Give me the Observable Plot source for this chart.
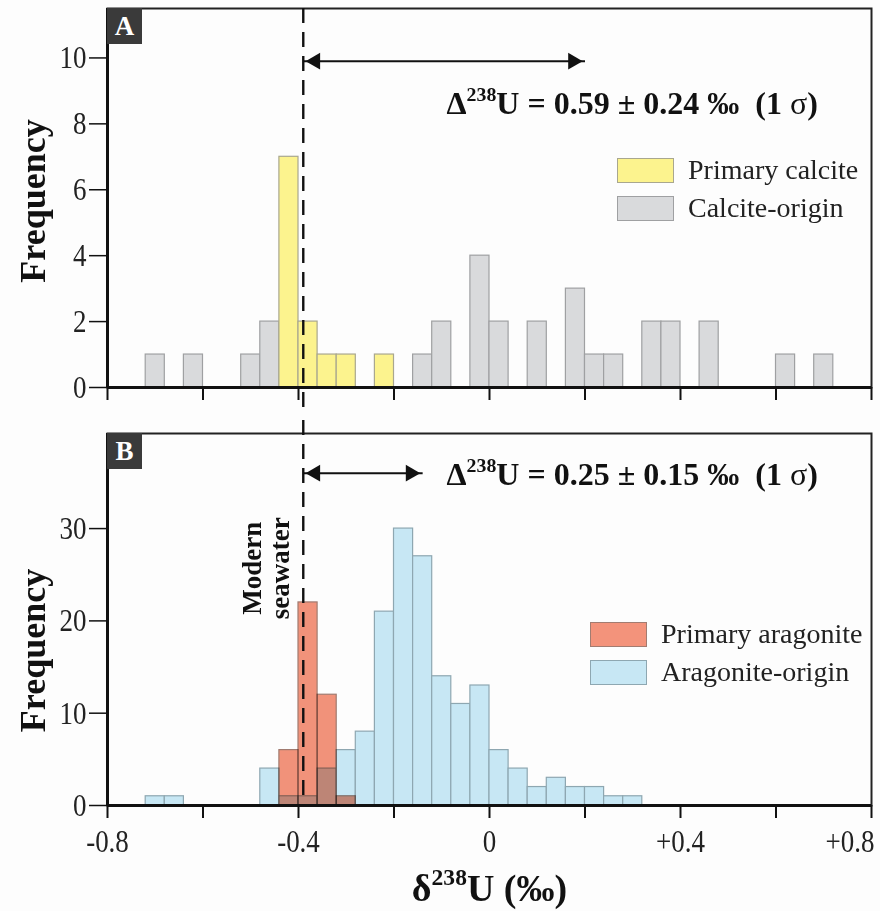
<!DOCTYPE html>
<html><head><meta charset="utf-8">
<script src="https://cdn.jsdelivr.net/npm/d3@7"></script>
<script src="https://cdn.jsdelivr.net/npm/@observablehq/plot@0.6"></script>
<style>
body{margin:0;background:#fff;}
#fig{position:relative;width:880px;height:911px;font-family:"Liberation Serif","Times New Roman",serif;color:#222;background:#fdfdfd;}
#fig svg{display:block;}
.tag{position:absolute;width:35px;height:36px;background:#3a3a3a;color:#fff;font-weight:bold;font-size:27px;line-height:37px;text-align:center;}
.leg{position:absolute;display:flex;align-items:center;font-size:28px;line-height:30px;color:#222;}
.sw{width:57px;height:25px;border:1.5px solid #9c9c9c;box-sizing:border-box;margin-right:14px;}
</style></head><body><div id="fig"></div><script>
// ---- data ----
const binWidth = 0.04;
const calcitePrimaryStarts = [-0.44, -0.40, -0.36, -0.32, -0.24];
const calcitePrimaryCounts = [7, 2, 1, 1, 1];
const calciteOriginStarts = [-0.72, -0.64, -0.52, -0.48, -0.16, -0.12, -0.04, 0.00, 0.08, 0.16, 0.20, 0.24, 0.32, 0.36, 0.44, 0.60, 0.68];
const calciteOriginCounts = [1, 1, 1, 2, 1, 2, 4, 2, 2, 3, 1, 1, 2, 2, 2, 1, 1];
const aragonitePrimaryStarts = [-0.44, -0.40, -0.36, -0.32];
const aragonitePrimaryCounts = [6, 22, 12, 1];
const aragoniteOriginStarts = [-0.72, -0.68, -0.48, -0.44, -0.40, -0.36, -0.32, -0.28, -0.24, -0.20, -0.16, -0.12, -0.08, -0.04, 0.00, 0.04, 0.08, 0.12, 0.16, 0.20, 0.24, 0.28];
const aragoniteOriginCounts = [1, 1, 4, 1, 1, 4, 6, 8, 21, 30, 27, 14, 11, 13, 6, 4, 2, 3, 2, 2, 1, 1];

const modernSeawater = -0.39;
const offsetA = 0.59, sigmaA = 0.24;
const offsetB = 0.25, sigmaB = 0.15;

const xTickValues = [-0.8, -0.6, -0.4, -0.2, 0, 0.2, 0.4, 0.6, 0.8];
const xTickLabels = ["-0.8", "", "-0.4", "", "0", "", "+0.4", "", "+0.8"];
const yTicksA = [0, 2, 4, 6, 8, 10];
const yTicksB = [0, 10, 20, 30];
const seriesA = ["Primary calcite", "Calcite-origin"];
const seriesB = ["Primary aragonite", "Aragonite-origin"];
const colors = {
  "Primary calcite": "#fcf38e", "Calcite-origin": "#d9dadc",
  "Primary aragonite": "#f3937b", "Aragonite-origin": "#c7e7f4"
};
const strokes = {
  "Primary calcite": "#a9a78f", "Calcite-origin": "#9fa0a2",
  "Primary aragonite": "#a27c71", "Aragonite-origin": "#8ea7b1"
};
const arrowLevelA = 9.9, labelLevelA = 8.6;
const arrowLevelB = 36.0, labelLevelB = 35.8;
const labelStartX = -0.09;

const bins = (starts, counts) => starts.map((s, i) => ({x1: s, x2: s + binWidth, n: counts[i]}));

const serif = "Liberation Serif, Times New Roman, serif";
const xDomain = [-0.8, 0.8];

function histMarks(data, name, extra = {}) {
  return Plot.rect(data, {x1: "x1", x2: "x2", y1: 0, y2: "n", fill: colors[name], stroke: strokes[name], strokeWidth: 1.2, ...extra});
}
function arrowMarks(level, x2) {
  const d = [{a: modernSeawater, b: x2, y: level}];
  return [
    Plot.link(d, {x1: "a", x2: "b", y1: "y", y2: "y", stroke: "#111", strokeWidth: 2}),
    Plot.dot(d, {x: "a", y: "y", symbol: "triangle2", r: 8, rotate: -90, fill: "#111", dx: 12}),
    Plot.dot(d, {x: "b", y: "y", symbol: "triangle2", r: 8, rotate: 90, fill: "#111", dx: -12})
  ];
}
const deltaText = (o, s) => `Δ238U = ${o.toFixed(2)} ± ${s.toFixed(2)} ‰\u00a0\u00a0(1 σ)`;

const plotA = Plot.plot({
  width: 880, height: 420,
  marginTop: 8, marginBottom: 33, marginLeft: 107, marginRight: 9,
  style: {fontFamily: serif, background: "transparent", color: "#222", overflow: "visible"},
  x: {domain: xDomain},
  y: {domain: [0, 11.5]},
  marks: [
    histMarks(bins(calciteOriginStarts, calciteOriginCounts), "Calcite-origin"),
    histMarks(bins(calcitePrimaryStarts, calcitePrimaryCounts), "Primary calcite"),
    Plot.frame({stroke: "#222", strokeWidth: 2}),
    Plot.ruleY([0], {stroke: "#111", strokeWidth: 3}),
    Plot.ruleX([xDomain[0]], {stroke: "#111", strokeWidth: 3}),
    Plot.axisX({ticks: xTickValues, tickSize: 13, tickFormat: () => "", strokeWidth: 2, stroke: "#111", label: null}),
    Plot.axisY({ticks: yTicksA, tickSize: 18, tickPadding: 3, fontSize: 27, strokeWidth: 1.5, stroke: "#111", label: null}),
    Plot.ruleX([modernSeawater], {stroke: "#111", strokeWidth: 2.4, strokeDasharray: "15,9", insetBottom: -20}),
    ...arrowMarks(arrowLevelA, modernSeawater + offsetA),
    Plot.text([deltaText(offsetA, sigmaA)], {x: labelStartX, y: labelLevelA, text: d => d, textAnchor: "start", fontSize: 32, fontWeight: "bold", fill: "#111"}),
    Plot.text(["Frequency"], {frameAnchor: "left", textAnchor: "middle", text: d => d, rotate: -90, dx: -74, dy: 3, fontSize: 36, fontWeight: "bold", fill: "#111"})
  ]
});

const plotB = Plot.plot({
  width: 880, height: 491,
  marginTop: 13, marginBottom: 106, marginLeft: 107, marginRight: 9,
  style: {fontFamily: serif, background: "transparent", color: "#222", overflow: "visible"},
  x: {domain: xDomain},
  y: {domain: [0, 40.3]},
  marks: [
    histMarks(bins(aragoniteOriginStarts, aragoniteOriginCounts), "Aragonite-origin"),
    histMarks(bins(aragonitePrimaryStarts, aragonitePrimaryCounts), "Primary aragonite", {mixBlendMode: "multiply"}),
    Plot.frame({stroke: "#222", strokeWidth: 2}),
    Plot.ruleY([0], {stroke: "#111", strokeWidth: 3}),
    Plot.ruleX([xDomain[0]], {stroke: "#111", strokeWidth: 3}),
    Plot.axisX({ticks: xTickValues, tickSize: 13, tickPadding: 10, fontSize: 27, tickFormat: d => xTickLabels[xTickValues.indexOf(d)], strokeWidth: 2, stroke: "#111", label: null}),
    Plot.axisY({ticks: yTicksB, tickSize: 18, tickPadding: 3, fontSize: 27, strokeWidth: 1.5, stroke: "#111", label: null}),
    Plot.ruleX([modernSeawater], {stroke: "#111", strokeWidth: 2.4, strokeDasharray: "15,9", insetTop: -13}),
    ...arrowMarks(arrowLevelB, modernSeawater + offsetB),
    Plot.text([deltaText(offsetB, sigmaB)], {x: labelStartX, y: labelLevelB, text: d => d, textAnchor: "start", fontSize: 32, fontWeight: "bold", fill: "#111"}),
    Plot.text(["Modern\nseawater"], {x: modernSeawater - 0.078, y: 25.7, text: d => d, rotate: -90, lineHeight: 1.05, fontSize: 27, fontWeight: "bold", fill: "#111"}),
    Plot.text(["Frequency"], {frameAnchor: "left", textAnchor: "middle", text: d => d, rotate: -90, dx: -74, dy: 31, fontSize: 36, fontWeight: "bold", fill: "#111"}),
    Plot.text(["δ238U (‰)"], {frameAnchor: "bottom", text: d => d, dy: 95, fontSize: 38, fontWeight: "bold", fill: "#111"})
  ]
});

const fig = document.getElementById("fig");
fig.appendChild(plotA);
fig.appendChild(plotB);

// superscript "238" and upright sigma
for (const t of fig.querySelectorAll("svg text")) {
  const s = t.textContent;
  if (!s.includes("238") || t.querySelector("tspan")) continue;
  const fs = parseFloat(getComputedStyle(t).fontSize);
  const [pre, post] = s.split("238");
  t.textContent = "";
  const add = (txt, attrs) => {
    const ts = document.createElementNS("http://www.w3.org/2000/svg", "tspan");
    ts.textContent = txt;
    for (const k in attrs) ts.setAttribute(k, attrs[k]);
    t.appendChild(ts);
    return ts;
  };
  add(pre, {});
  add("238", {dy: -0.42 * fs, "font-size": 0.62 * fs});
  if (post.includes("σ")) {
    const [a, b] = post.split("σ");
    add(a, {dy: 0.42 * fs});
    add("σ", {"font-weight": "normal"});
    add(b, {});
  } else {
    add(post, {dy: 0.42 * fs});
  }
}

// tall, narrow-looking tick labels as in the original figure
function stretch(t, sy) {
  const tr = t.getAttribute("transform");
  if (tr) t.setAttribute("transform", tr + ` scale(1,${sy})`);
  else {
    const x = +t.getAttribute("x") || 0, y = +t.getAttribute("y") || 0;
    t.removeAttribute("x"); t.removeAttribute("y");
    t.setAttribute("transform", `translate(${x},${y}) scale(1,${sy})`);
  }
}
for (const t of fig.querySelectorAll('g[aria-label="x-axis tick label"] text, g[aria-label="y-axis tick label"] text')) {
  stretch(t, 1.2);
  if (t.textContent === xTickLabels[xTickLabels.length - 1]) {
    t.setAttribute("text-anchor", "end");
    t.setAttribute("dx", 3);
  }
}

// panel tags and legends
function tag(letter, top) {
  const d = document.createElement("div");
  d.className = "tag"; d.style.left = "107px"; d.style.top = top + "px"; d.textContent = letter;
  fig.appendChild(d);
}
function legend(names, left, top, gap) {
  names.forEach((name, i) => {
    const row = document.createElement("div");
    row.className = "leg"; row.style.left = left + "px"; row.style.top = (top + i * gap) + "px";
    const sw = document.createElement("div");
    sw.className = "sw"; sw.style.background = colors[name]; sw.style.borderColor = strokes[name];
    const lab = document.createElement("span"); lab.textContent = name;
    row.appendChild(sw); row.appendChild(lab);
    fig.appendChild(row);
  });
}
tag("A", 8); tag("B", 433);
legend(seriesA, 617, 155, 38);
legend(seriesB, 590, 619, 38);
</script></body></html>
